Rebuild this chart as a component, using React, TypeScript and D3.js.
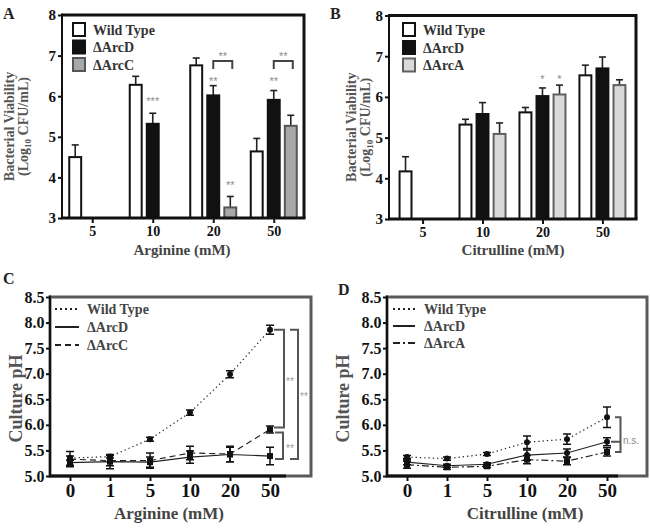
import React, { useEffect, useRef } from 'react';
import * as d3 from 'd3';

const SERIF = '"Liberation Serif", "Times New Roman", serif';
const SANS = '"Liberation Sans", Arial, sans-serif';

// Panels A / B: bacterial viability (log10 CFU/mL)
const barCats = ['5', '10', '20', '50'];
const seriesA = ['Wild Type', '\u0394ArcD', '\u0394ArcC'];
const seriesB = ['Wild Type', '\u0394ArcD', '\u0394ArcA'];

const wtA = [4.5, 6.28, 6.76, 4.64];
const wtErrA = [0.3, 0.21, 0.18, 0.32];
const arcDA = [null, 5.32, 6.02, 5.91];
const arcDErrA = [null, 0.26, 0.24, 0.23];
const arcCA = [null, null, 3.26, 5.27];
const arcCErrA = [null, null, 0.27, 0.26];

const wtB = [4.17, 5.32, 5.62, 6.53];
const wtErrB = [0.36, 0.13, 0.12, 0.25];
const arcDB = [null, 5.58, 6.02, 6.7];
const arcDErrB = [null, 0.28, 0.2, 0.28];
const arcAB = [null, 5.09, 6.06, 6.29];
const arcAErrB = [null, 0.27, 0.23, 0.13];

const barTicks = [3, 4, 5, 6, 7, 8];

// Panels C / D: culture pH
const phCats = ['0', '1', '5', '10', '20', '50'];
const seriesC = ['Wild Type', '\u0394ArcD', '\u0394ArcC'];
const seriesD = ['Wild Type', '\u0394ArcD', '\u0394ArcA'];

const wtC = [5.35, 5.38, 5.72, 6.24, 6.99, 7.86];
const wtErrC = [0.04, 0.03, 0.04, 0.05, 0.07, 0.09];
const arcDC = [5.26, 5.28, 5.27, 5.37, 5.42, 5.39];
const arcDErrC = [0.05, 0.14, 0.1, 0.12, 0.14, 0.17];
const arcCC = [5.33, 5.3, 5.3, 5.45, 5.43, 5.91];
const arcCErrC = [0.15, 0.1, 0.15, 0.13, 0.15, 0.07];

const wtD = [5.37, 5.34, 5.43, 5.66, 5.72, 6.15];
const wtErrD = [0.03, 0.03, 0.03, 0.12, 0.1, 0.2];
const arcDD = [5.27, 5.2, 5.23, 5.41, 5.45, 5.67];
const arcDErrD = [0.05, 0.03, 0.03, 0.1, 0.08, 0.08];
const arcAD = [5.22, 5.17, 5.19, 5.32, 5.29, 5.47];
const arcAErrD = [0.07, 0.04, 0.03, 0.08, 0.07, 0.08];

const phTicks = [5.0, 5.5, 6.0, 6.5, 7.0, 7.5, 8.0, 8.5];

const panelA = {
  letter: 'A', letterX: 3, letterY: 18.5,
  x0: 62, x1: 304, yTop: 15, yBot: 218, pad: 0.5,
  series: seriesA,
  values: [wtA, arcDA, arcCA],
  errors: [wtErrA, arcDErrA, arcCErrA],
  fills: ['#fff', '#111', '#a8a8a8'],
  strokes: ['#111', '#111', '#555'],
  xLabel: 'Arginine (mM)', xLabelX: 182,
  yLabelX: [14, 27.5],
  legendX: 73, legendY: [23, 40.5, 58],
  stars: [
    { ci: 1, si: 1, v: 5.92, t: '***' },
    { ci: 2, si: 1, v: 6.43, t: '**' },
    { ci: 2, si: 2, v: 3.85, t: '**' },
    { ci: 3, si: 1, v: 6.43, t: '**' },
  ],
  brackets: [
    { ci: 2, v: 6.87, t: '**' },
    { ci: 3, v: 6.87, t: '**' },
  ],
};

const panelB = {
  letter: 'B', letterX: 330, letterY: 18.5,
  x0: 389, x1: 636, yTop: 15.5, yBot: 219, pad: 0.56,
  series: seriesB,
  values: [wtB, arcDB, arcAB],
  errors: [wtErrB, arcDErrB, arcAErrB],
  fills: ['#fff', '#111', '#dadada'],
  strokes: ['#111', '#111', '#606060'],
  xLabel: 'Citrulline (mM)', xLabelX: 513,
  yLabelX: [356, 369.5],
  legendX: 403, legendY: [23, 41, 58.5],
  stars: [
    { ci: 2, si: 1, v: 6.49, t: '*' },
    { ci: 2, si: 2, v: 6.49, t: '*' },
  ],
  brackets: [],
};

const panelC = {
  letter: 'C', letterX: 3, letterY: 284,
  x0: 50, rangeR: 290, axisEnd: 286, frameR: 311, yTop: 297, yBot: 476,
  series: seriesC,
  values: [wtC, arcDC, arcCC],
  errors: [wtErrC, arcDErrC, arcCErrC],
  dashes: ['1.3,3', null, '6,4'],
  markers: ['circle', 'square', 'square'],
  xLabel: 'Arginine (mM)', xLabelX: 169,
  yLabelX: 22,
  legend: { x1: 55, x2: 79, tx: 87, ys: [309, 327, 345] },
  brackets: [
    { a: 0, b: 2, xl: 4, xr: 14, da: 0, db: -2, lx: 20, t: '**' },
    { a: 2, b: 1, xl: 5, xr: 13, da: 3, db: 3, lx: 20, t: '**' },
    { a: 0, b: 1, xl: 20, xr: 28, da: 0, db: 3, lx: 34, t: '**' },
  ],
  ns: null,
};

const panelD = {
  letter: 'D', letterX: 338, letterY: 295,
  x0: 387, rangeR: 627, axisEnd: 618, frameR: 647, yTop: 297, yBot: 476,
  series: seriesD,
  values: [wtD, arcDD, arcAD],
  errors: [wtErrD, arcDErrD, arcAErrD],
  dashes: ['1.3,3', null, '7,3,2,3'],
  markers: ['circle', 'circle', 'square'],
  xLabel: 'Citrulline (mM)', xLabelX: 525,
  yLabelX: 349,
  legend: { x1: 393, x2: 415, tx: 424, ys: [309, 326, 343] },
  brackets: [],
  ns: { a: 0, b: 2, mid: 1, xl: 8, xr: 13.5, xm: 4, lx: 16, t: 'n.s.' },
};

function drawBarPanel(svg: any, p: any) {
  const g = svg.append('g');
  const x = d3.scalePoint().domain(barCats).range([p.x0, p.x1]).padding(p.pad);
  const sub = d3.scaleBand().domain(p.series).range([-23, 23]).paddingInner(0.3);
  const y = d3.scaleLinear().domain([3, 8]).range([p.yBot, p.yTop]);
  const bw = sub.bandwidth();
  const cx = (ci: number, si: number) => (x(barCats[ci]) as number) + (sub(p.series[si]) as number) + bw / 2;

  // bars with upward error bars
  p.series.forEach((s: string, si: number) => {
    p.values[si].forEach((v: number | null, ci: number) => {
      if (v == null) return;
      const e = p.errors[si][ci];
      const c = cx(ci, si);
      g.append('line').attr('x1', c).attr('x2', c).attr('y1', y(v)).attr('y2', y(v + e))
        .attr('stroke', '#222').attr('stroke-width', 1.6);
      g.append('line').attr('x1', c - 3.5).attr('x2', c + 3.5).attr('y1', y(v + e)).attr('y2', y(v + e))
        .attr('stroke', '#222').attr('stroke-width', 1.6);
      g.append('rect')
        .attr('x', c - bw / 2).attr('width', bw)
        .attr('y', y(v)).attr('height', y(3) - y(v))
        .attr('fill', p.fills[si]).attr('stroke', p.strokes[si]).attr('stroke-width', 2);
    });
  });

  // frame
  g.append('path')
    .attr('d', `M${p.x0},${p.yTop} H${p.x1} V${p.yBot}`)
    .attr('fill', 'none').attr('stroke', '#111').attr('stroke-width', 3);
  g.append('line').attr('x1', p.x0).attr('x2', p.x0).attr('y1', p.yTop - 1.5).attr('y2', p.yBot)
    .attr('stroke', '#111').attr('stroke-width', 2);
  g.append('line').attr('x1', p.x0 - 1).attr('x2', p.x1 + 1.5).attr('y1', p.yBot).attr('y2', p.yBot)
    .attr('stroke', '#111').attr('stroke-width', 3);

  // axes
  const ya = g.append('g').attr('transform', `translate(${p.x0},0)`)
    .call(d3.axisLeft(y).tickValues(barTicks).tickSize(4).tickPadding(2).tickFormat(d3.format('d')));
  const xa = g.append('g').attr('transform', `translate(0,${p.yBot})`)
    .call(d3.axisBottom(x).tickSize(5).tickPadding(3));
  [ya, xa].forEach((a) => {
    a.select('.domain').remove();
    a.selectAll('line').attr('stroke', '#111').attr('stroke-width', 2);
    a.selectAll('text').attr('font-family', SERIF).attr('font-weight', 'bold')
      .attr('font-size', 15).attr('fill', '#111');
  });
  xa.selectAll('text').attr('font-size', 14);

  // significance stars
  p.stars.forEach((s: any) => {
    g.append('text').attr('x', cx(s.ci, s.si)).attr('y', y(s.v) + 6)
      .attr('text-anchor', 'middle').attr('font-family', SANS).attr('font-size', 11)
      .attr('fill', '#8a8a8a').text(s.t);
  });
  p.brackets.forEach((b: any) => {
    const l = cx(b.ci, 1);
    const r = cx(b.ci, 2) + 2;
    const yy = y(b.v);
    g.append('path').attr('d', `M${l},${yy + 8} V${yy} H${r} V${yy + 8}`)
      .attr('fill', 'none').attr('stroke', '#444').attr('stroke-width', 2);
    g.append('text').attr('x', (l + r) / 2).attr('y', yy - 0.5)
      .attr('text-anchor', 'middle').attr('font-family', SANS).attr('font-size', 11)
      .attr('fill', '#8a8a8a').text(b.t);
  });

  // legend
  p.series.forEach((s: string, i: number) => {
    g.append('rect').attr('x', p.legendX).attr('y', p.legendY[i]).attr('width', 12).attr('height', 13)
      .attr('fill', p.fills[i]).attr('stroke', p.strokes[i]).attr('stroke-width', 2);
    g.append('text').attr('x', p.legendX + 20).attr('y', p.legendY[i] + 11.5)
      .attr('font-family', SERIF).attr('font-weight', 'bold').attr('font-size', 14)
      .attr('fill', '#333').text(s);
  });

  // titles
  const yc = (p.yTop + p.yBot) / 2 + 10;
  g.append('text').attr('transform', `translate(${p.yLabelX[0]},${yc}) rotate(-90)`)
    .attr('text-anchor', 'middle').attr('font-family', SERIF).attr('font-weight', 'bold')
    .attr('font-size', 14).attr('fill', '#555').text('Bacterial Viability');
  const t2 = g.append('text').attr('transform', `translate(${p.yLabelX[1]},${yc}) rotate(-90)`)
    .attr('text-anchor', 'middle').attr('font-family', SERIF).attr('font-weight', 'bold')
    .attr('font-size', 14).attr('fill', '#555');
  t2.append('tspan').text('(Log');
  t2.append('tspan').attr('font-size', 9).attr('dy', 3).text('10');
  t2.append('tspan').attr('dy', -3).text(' CFU/mL)');
  g.append('text').attr('x', p.xLabelX).attr('y', 255).attr('text-anchor', 'middle')
    .attr('font-family', SERIF).attr('font-weight', 'bold').attr('font-size', 15)
    .attr('fill', '#444').text(p.xLabel);
  g.append('text').attr('x', p.letterX).attr('y', p.letterY)
    .attr('font-family', SERIF).attr('font-weight', 'bold').attr('font-size', 16)
    .attr('fill', '#222').text(p.letter);
}

function drawLinePanel(svg: any, p: any) {
  const g = svg.append('g');
  const x = d3.scalePoint().domain(phCats).range([p.x0, p.rangeR]).padding(0.5);
  const y = d3.scaleLinear().domain([5, 8.5]).range([p.yBot, p.yTop]);
  const xs = (i: number) => x(phCats[i]) as number;

  // frame
  g.append('rect').attr('x', p.x0).attr('y', p.yTop).attr('width', p.frameR - p.x0)
    .attr('height', p.yBot - p.yTop).attr('fill', 'none').attr('stroke', '#5a5a5a').attr('stroke-width', 3);

  // lines
  p.series.forEach((s: string, si: number) => {
    const line = d3.line<number>().x((_, i) => xs(i)).y((v) => y(v));
    g.append('path').datum(p.values[si]).attr('d', line).attr('fill', 'none')
      .attr('stroke', '#222').attr('stroke-width', 1.2)
      .attr('stroke-dasharray', p.dashes[si] || null);
  });

  // error bars and markers
  p.series.forEach((s: string, si: number) => {
    p.values[si].forEach((v: number, i: number) => {
      const e = p.errors[si][i];
      const c = xs(i);
      g.append('path')
        .attr('d', `M${c - 4},${y(v + e)} H${c + 4} M${c},${y(v + e)} V${y(v - e)} M${c - 4},${y(v - e)} H${c + 4}`)
        .attr('fill', 'none').attr('stroke', '#111').attr('stroke-width', 1.5);
      if (p.markers[si] === 'circle') {
        g.append('circle').attr('cx', c).attr('cy', y(v)).attr('r', 3).attr('fill', '#111');
      } else {
        g.append('rect').attr('x', c - 3).attr('y', y(v) - 3).attr('width', 6).attr('height', 6).attr('fill', '#111');
      }
    });
  });

  // axes
  g.append('line').attr('x1', p.x0).attr('x2', p.x0).attr('y1', p.yTop - 1.5).attr('y2', p.yBot)
    .attr('stroke', '#111').attr('stroke-width', 2);
  g.append('line').attr('x1', p.x0 - 1).attr('x2', p.axisEnd).attr('y1', p.yBot).attr('y2', p.yBot)
    .attr('stroke', '#111').attr('stroke-width', 3);
  const ya = g.append('g').attr('transform', `translate(${p.x0},0)`)
    .call(d3.axisLeft(y).tickValues(phTicks).tickSize(4).tickPadding(1.5).tickFormat(d3.format('.1f')));
  const xa = g.append('g').attr('transform', `translate(0,${p.yBot})`)
    .call(d3.axisBottom(x).tickSize(5).tickPadding(3));
  [ya, xa].forEach((a) => {
    a.select('.domain').remove();
    a.selectAll('line').attr('stroke', '#111').attr('stroke-width', 2);
    a.selectAll('text').attr('font-family', SERIF).attr('font-weight', 'bold').attr('fill', '#111');
  });
  ya.selectAll('text').attr('font-size', 16);
  xa.selectAll('text').attr('font-size', 19);

  // brackets
  const last = xs(phCats.length - 1);
  p.brackets.forEach((b: any) => {
    const ya0 = y(p.values[b.a][5]) + b.da;
    const yb0 = y(p.values[b.b][5]) + b.db;
    g.append('path').attr('d', `M${last + b.xl},${ya0} H${last + b.xr} V${yb0} H${last + b.xl}`)
      .attr('fill', 'none').attr('stroke', '#555').attr('stroke-width', 2);
    g.append('text').attr('x', last + b.lx).attr('y', (ya0 + yb0) / 2 + 6)
      .attr('text-anchor', 'middle').attr('font-family', SANS).attr('font-size', 10)
      .attr('fill', '#999').text(b.t);
  });
  if (p.ns) {
    const n = p.ns;
    const ya0 = y(p.values[n.a][5]);
    const yb0 = y(p.values[n.b][5]);
    const ym = y(p.values[n.mid][5]);
    g.append('path')
      .attr('d', `M${last + n.xl},${ya0} H${last + n.xr} V${yb0} H${last + n.xl} M${last + n.xm},${ym} H${last + n.xr + 1}`)
      .attr('fill', 'none').attr('stroke', '#555').attr('stroke-width', 2);
    g.append('text').attr('x', last + n.lx).attr('y', ym + 2)
      .attr('font-family', SANS).attr('font-size', 10).attr('fill', '#888').text(n.t);
  }

  // legend
  p.series.forEach((s: string, i: number) => {
    const yy = p.legend.ys[i];
    g.append('line').attr('x1', p.legend.x1).attr('x2', p.legend.x2).attr('y1', yy).attr('y2', yy)
      .attr('stroke', '#222').attr('stroke-width', 2)
      .attr('stroke-dasharray', p.dashes[i] ? (i === 0 ? '2,3' : p.dashes[i]) : null);
    g.append('text').attr('x', p.legend.tx).attr('y', yy + 5)
      .attr('font-family', SERIF).attr('font-weight', 'bold').attr('font-size', 14)
      .attr('fill', '#444').text(s);
  });

  // titles
  g.append('text').attr('transform', `translate(${p.yLabelX},${(p.yTop + p.yBot) / 2 + 12}) rotate(-90)`)
    .attr('text-anchor', 'middle').attr('font-family', SERIF).attr('font-weight', 'bold')
    .attr('font-size', 18).attr('fill', '#555').text('Culture pH');
  g.append('text').attr('x', p.xLabelX).attr('y', 519).attr('text-anchor', 'middle')
    .attr('font-family', SERIF).attr('font-weight', 'bold').attr('font-size', 17)
    .attr('fill', '#444').text(p.xLabel);
  g.append('text').attr('x', p.letterX).attr('y', p.letterY)
    .attr('font-family', SERIF).attr('font-weight', 'bold').attr('font-size', 16)
    .attr('fill', '#222').text(p.letter);
}

const App = () => {
  const ref = useRef<SVGSVGElement>(null);

  useEffect(() => {
    const svg = d3.select(ref.current);
    svg.selectAll('*').remove();
    drawBarPanel(svg, panelA);
    drawBarPanel(svg, panelB);
    drawLinePanel(svg, panelC);
    drawLinePanel(svg, panelD);
  }, []);

  return (
    <svg
      ref={ref}
      width={650}
      height={529}
      style={{ position: 'absolute', left: 0, top: 0, background: '#fff' }}
    />
  );
};

export default App;
